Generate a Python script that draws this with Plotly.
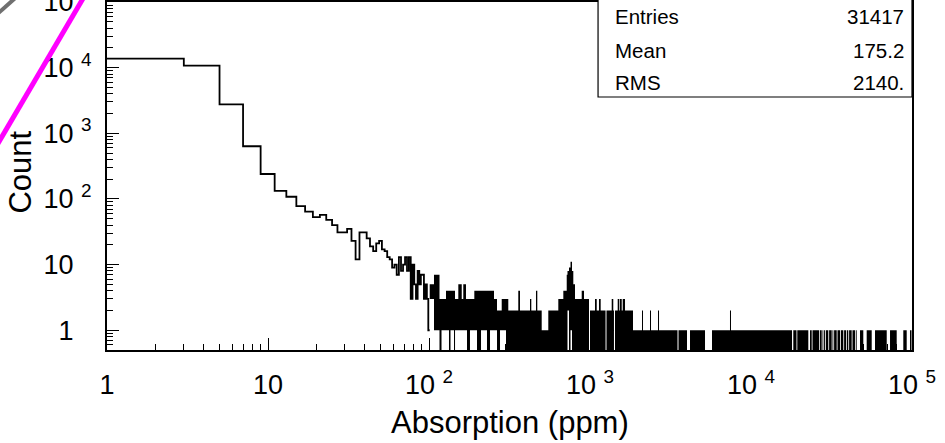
import plotly.graph_objects as go

# ---------------- data ----------------
# Regular-binned part of the histogram: bins of width 2 ppm starting at 1 ppm
bin_start = 1
bin_width = 2
counts = [13700, 10700, 2750, 635, 240, 133, 108, 78, 64, 53,
          57, 48, 40, 31, 31, 35, 23, 12, 31, 31,
          25, 19, 16, 21, 23, 17, 16, 13, 12, 9,
          10, 7, 13, 8, 10, 13, 8, 13, 3, 10,
          5, 3, 8, 5, 7, 7, 3, 5, 3, 1]

# Dense (unresolved) tail above 100 ppm: per x-range, the span of counts the
# histogram line sweeps through (lo = 0 means it drops to empty bins).
noise_edges = [101, 107.4, 116.2, 119.6, 127.5, 133.1, 136.0, 143.0, 145.1, 152.1,
               159.7, 163.3, 169.7, 172.2, 179.7, 191.2, 198.7, 210.4, 229.2, 239.3,
               253.3, 264.5, 276.1, 282.9, 300.8, 310.8, 358.6, 367.4, 424.0, 431.9,
               461.9, 470.6, 501.2, 550.8, 635.6, 682.8, 716.8, 724.9, 740.7, 756.8,
               773.2, 787.7, 807.0, 888.2, 917.9, 953.9, 985.8, 1000, 1074, 1101,
               1137, 1165, 1249, 1266, 1364, 1395, 1409, 1430, 1486, 1521,
               1536, 1574, 1597, 1650, 1850, 2104, 2134, 2359, 2393, 2645,
               2683, 3496, 3546, 4004, 4180, 5180, 5725, 7405, 7511, 17980,
               18310, 19170, 19390, 22700, 23260, 23830, 24100, 26450, 26750, 27490,
               27810, 28130, 28440, 28820, 29150, 30210, 30560, 31710, 32080, 32450,
               32820, 34070, 34460, 35710, 36130, 37440, 37870, 38920, 39360, 40200,
               40670, 42210, 42690, 44260, 44760, 45340, 47540, 49830, 52310, 56200,
               58920, 69660, 73030, 80350, 88310, 92700, 97190, 99290, 100000]
noise_lo = [3, 1, 0, 1, 1, 0, 1, 0, 1, 1,
            1, 1, 1, 0, 1, 1, 0, 1, 0, 1,
            1, 0, 1, 1, 0, 0, 0, 0, 0, 0,
            0, 0, 0, 0, 0, 0, 0, 2, 0, 1,
            0, 0, 0, 0, 0, 0, 0, 0, 0, 0,
            0, 0, 0, 0, 0, 0, 0, 0, 0, 0,
            0, 0, 0, 0, 0, 0, 0, 0, 0, 0,
            0, 0, 0, 0, 0, 0, 0, 0, 0, 0,
            0, 0, 0, 0, 0, 0, 0, 0, 0, 0,
            0, 0, 0, 0, 0, 0, 0, 0, 0, 0,
            0, 0, 0, 0, 0, 0, 0, 0, 0, 0,
            0, 0, 0, 0, 0, 0, 0, 0, 0, 0,
            0, 0, 0, 0, 0, 0, 0, 0]
noise_hi = [5, 7, 3, 3, 4, 4, 4, 4, 3, 5,
            3, 5, 3, 3, 3, 4, 4, 4, 4, 4,
            3, 2, 2, 3, 3, 2, 4, 2, 3, 2,
            4, 2, 1, 2, 3, 4, 7, 8, 9, 11,
            8, 5, 3, 4, 3, 3, 0, 2, 3, 2,
            3, 2, 0, 2, 3, 2, 0, 2, 3, 2,
            3, 2, 3, 2, 1, 2, 1, 2, 1, 2,
            1, 0, 1, 0, 1, 0, 1, 2, 1, 0,
            1, 0, 1, 0, 1, 0, 1, 0, 1, 0,
            1, 0, 1, 0, 1, 0, 1, 0, 1, 0,
            1, 0, 1, 0, 1, 0, 1, 0, 1, 0,
            1, 0, 1, 0, 1, 0, 1, 0, 1, 0,
            1, 0, 1, 0, 1, 0, 1, 0]

stats_labels = ["Entries", "Mean", "RMS"]
stats_values = ["31417", "175.2", "2140."]

x_tick_vals = [1, 10, 100, 1000, 10000, 100000]
y_tick_vals = [1, 10, 100, 1000, 10000, 100000]

# ---------------- build ----------------
FONT = "Liberation Sans, Arial, Helvetica, sans-serif"
NB = "\u00a0"
PH = '<sup><span style="color:rgba(0,0,0,0)">0</span></sup>'
x_tick_text = ["1", "10", "10" + NB + "<sup>2</sup>", "10" + NB + "<sup>3</sup>",
               "10" + NB + "<sup>4</sup>", "10" + NB + "<sup>5</sup>"]
y_tick_text = ["1" + NB + PH, "10" + NB + PH, "10" + NB + "<sup>2</sup>",
               "10" + NB + "<sup>3</sup>", "10" + NB + "<sup>4</sup>", "10" + NB + "<sup>5</sup>"]

edges = [bin_start + bin_width * i for i in range(len(counts) + 1)]
step_x = edges
step_y = counts + [counts[-1]]

FLOOR = 0.1  # below the visible axis range: empty bins drop to the frame bottom
nx, ny = [], []
for i, hi in enumerate(noise_hi):
    if hi <= 0:
        continue
    l, r = noise_edges[i], noise_edges[i + 1]
    lo = noise_lo[i] if noise_lo[i] > 0 else FLOOR
    nx += [l, r, r, l, l, None]
    ny += [lo, lo, hi, hi, lo, None]

minor_x = [m * 10 ** d for d in range(0, 5) for m in range(2, 10)]
minor_y = [m * 0.1 for m in range(5, 10)] + [m * 10 ** d for d in range(0, 5) for m in range(2, 10)]

fig = go.Figure()
fig.add_trace(go.Scatter(x=nx, y=ny, mode="lines", fill="toself",
                         fillcolor="black", line=dict(width=0, color="black"),
                         hoverinfo="skip", showlegend=False))
fig.add_trace(go.Scatter(x=step_x, y=step_y, mode="lines", line_shape="hv",
                         line=dict(color="black", width=1.8), showlegend=False))

axis_common = dict(type="log", showgrid=False, zeroline=False, showline=True,
                   linecolor="black", linewidth=2, mirror=True, automargin=False,
                   ticks="inside", ticklen=12, tickwidth=1.4, tickcolor="black",
                   ticklabeloverflow="allow",
                   tickfont=dict(family=FONT, size=27, color="black"))
fig.update_xaxes(range=[0, 5], tickmode="array", tickvals=x_tick_vals, ticktext=x_tick_text,
                 minor=dict(tickmode="array", tickvals=minor_x, ticks="inside", ticklen=6,
                            tickwidth=1.2, tickcolor="black"),
                 ticklabelstandoff=10, **axis_common)
fig.update_yaxes(range=[-0.30103, 5], tickmode="array", tickvals=y_tick_vals, ticktext=y_tick_text,
                 minor=dict(tickmode="array", tickvals=minor_y, ticks="inside", ticklen=6,
                            tickwidth=1.2, tickcolor="black"),
                 ticklabelstandoff=8, **axis_common)

annotations = [
    dict(text="Absorption (ppm)", x=0.5, y=-0.207, xref="paper", yref="paper",
         showarrow=False, font=dict(family=FONT, size=31, color="black"),
         xanchor="center", yanchor="middle"),
    dict(text="Count", x=-0.108, y=0.51, xref="paper", yref="paper", textangle=-90,
         showarrow=False, font=dict(family=FONT, size=31, color="black"),
         xanchor="center", yanchor="middle"),
]
stat_y = [0.957, 0.862, 0.770]
for lab, val, yy in zip(stats_labels, stats_values, stat_y):
    annotations.append(dict(text=lab, x=0.629, y=yy, xref="paper", yref="paper",
                            showarrow=False, xanchor="left", yanchor="middle",
                            font=dict(family=FONT, size=20.5, color="black")))
    annotations.append(dict(text=val, x=0.9925, y=yy, xref="paper", yref="paper",
                            showarrow=False, xanchor="right", yanchor="middle",
                            font=dict(family=FONT, size=20.5, color="black")))

shapes = [
    dict(type="rect", xref="paper", yref="paper", x0=0.61, x1=1.0, y0=0.727, y1=1.02,
         line=dict(color="black", width=1.2), fillcolor="white", layer="above"),
    dict(type="line", xref="paper", yref="paper", x0=-0.1453, y0=0.5546, x1=-0.0236, y1=1.0345,
         line=dict(color="#ff00ff", width=5)),
    dict(type="line", xref="paper", yref="paper", x0=-0.139, y0=0.96, x1=-0.1, y1=1.04,
         line=dict(color="#707070", width=4)),
]

fig.update_layout(width=945, height=443, margin=dict(l=107, r=33, t=2, b=93),
                  plot_bgcolor="white", paper_bgcolor="white",
                  annotations=annotations, shapes=shapes, showlegend=False)

fig.write_html("out.html", config={"displayModeBar": False},
               post_script="document.body.style.margin='0px';document.body.style.overflow='hidden';")
